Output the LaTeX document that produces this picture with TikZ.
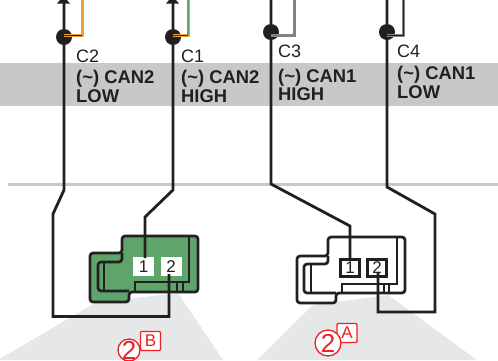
\documentclass[tikz,border=0pt]{standalone}
\usepackage{fontspec}
\setmainfont{Liberation Sans}
\definecolor{wire}{HTML}{231F20}
\definecolor{band}{HTML}{C7C8CA}
\definecolor{fan}{HTML}{E6E7E8}
\definecolor{cgreen}{HTML}{5FA56B}
\definecolor{cred}{HTML}{ED2024}
\definecolor{corange}{HTML}{E9A23B}
\definecolor{cgray}{HTML}{808285}
\newcommand{\bigtwo}{\makebox[0pt][c]{\raisebox{-.36em}[0pt][0pt]{2}}}
\tikzset{
  x=1pt,y=-1pt,
  wireline/.style={draw=wire,line width=2.8pt,line join=miter},
  dot/.style={circle,fill=wire,inner sep=0pt,minimum size=16pt},
  conn/.style={draw=wire,line width=2.7pt,rounded corners=3pt,line join=round},
  thinl/.style={draw=wire,line width=1.3pt},
  pin/.style={rectangle,fill=white,minimum width=21pt,minimum height=19pt,inner sep=0pt,font=\fontsize{17}{17}\selectfont,text=wire},
  pinbox/.style={pin,draw=wire,line width=2.7pt,minimum width=19pt,minimum height=17.5pt},
  tag/.style={anchor=base west,inner sep=0pt,font=\fontsize{18}{18}\selectfont,text=wire},
  lab/.style={anchor=base west,inner sep=0pt,font=\bfseries\fontsize{18.4}{18}\selectfont,text=wire},
  redc/.style={circle,draw=cred,fill=white,line width=1.3pt,inner sep=0pt,text=cred,font=\fontsize{26}{26}\selectfont},
  redb/.style={rectangle,rounded corners=1pt,draw=cred,fill=white,line width=1.3pt,inner sep=0pt,text=cred,minimum width=20pt,minimum height=19pt,font=\fontsize{17}{17}\selectfont},
}
\begin{document}
\begin{tikzpicture}
\useasboundingbox (0,0) rectangle (498,360);
\clip (0,0) rectangle (498,360);
% band and rule
\fill[band] (0,63) rectangle (498,106);
\fill[band] (8,183) rectangle (498,185.5);
% fans
\fill[fan] (95,303) -- (-2,360) -- (223,360) -- (178,293) -- cycle;
\fill[fan] (313,305) -- (257,360) -- (477,360) -- (388,295) -- cycle;
% labels
\node[tag] (c2) at (76,62) {C2};
\node[tag] (c1) at (181,62) {C1};
\node[tag] (c3) at (278,57) {C3};
\node[tag] (c4) at (397,57) {C4};
\node[lab] (l2a) at (76,83) {(\textasciitilde) CAN2};
\node[lab] (l2b) at (76,102) {LOW};
\node[lab] (l1a) at (181,83) {(\textasciitilde) CAN2};
\node[lab] (l1b) at (181,102) {HIGH};
\node[lab] (l3a) at (278,82) {(\textasciitilde) CAN1};
\node[lab] (l3b) at (278,100) {HIGH};
\node[lab] (l4a) at (397,79) {(\textasciitilde) CAN1};
\node[lab] (l4b) at (397,98) {LOW};
% connector B
\path[conn,fill=cgreen] (122,236) -- (198,236) -- (198,292) -- (129,292) -- (129,302) -- (90,302) -- (90,253) -- (122,253) -- cycle;
\draw[conn] (122,253) -- (122,262) -- (98,262) -- (98,291) -- (129,291);
\draw[thinl] (104,262) -- (104,291);
\draw[thinl] (189,236) -- (189,282) -- (135,282) -- (135,291);
\draw[thinl] (177,282) -- (177,291) (183,282) -- (183,291);
\node[pin] (b1) at (143.5,266.5) {1};
\node[pin] (b2) at (171,266.5) {2};
% connector A
\path[conn,fill=white] (328,237) -- (405,237) -- (405,293) -- (336,293) -- (336,303) -- (297,303) -- (297,256) -- (328,256) -- cycle;
\draw[conn] (328,256) -- (328,264) -- (304,264) -- (304,293) -- (336,293);
\draw[thinl] (311,264) -- (311,293);
\draw[thinl] (397,237) -- (397,284) -- (342,284) -- (342,293);
\draw[thinl] (384,284) -- (384,293) (389,284) -- (389,293);
\node[pinbox] (a1) at (350,268) {1};
\node[pinbox] (a2) at (377,268) {2};
% side loops
\coordinate (t2) at (82,0);
\coordinate (t1) at (188,0);
\coordinate (t3) at (294,0);
\coordinate (t4) at (403,0);
% wires
\node[dot] (d2) at (64,37) {};
\node[dot] (d1) at (173,37) {};
\node[dot] (d3) at (271,32) {};
\node[dot] (d4) at (387,32) {};
\draw[corange,line width=3pt] (d2.center) ++(0,-2) -- (82,35) -- (t2);
\draw[wire,line width=.7pt] (d2.center) ++(0,-2) -- ++(18,0);
\draw[corange,line width=3pt] (d1.center) ++(0,-2) -- (188,35) -- (t1);
\draw[cgreen,line width=1.2pt] (188,35) -- (t1);
\draw[red!70!black,line width=.7pt] (d1.center) ++(0,-2) -- (188,35);
\draw[cgray,line width=3pt] (d3.center) ++(0,3) -- (294,35) -- (t3);
\draw[cgray,line width=3pt] (d4.center) ++(0,3) -- (403,35) -- (t4);
\draw[wire,line width=.7pt] (d4.center) ++(0,3) -- (403,35) -- (t4);
\coordinate (k2a) at (64,190);
\coordinate (k2b) at (53,214);
\coordinate (k2c) at (53,316.5);
\coordinate (k2d) at (169,316.5);
\coordinate (k2e) at (169,274);
\draw[wireline] (64,0) -- (d2) -- (k2a) -- (k2b) -- (k2c) -- (k2d) -- (k2e);
\coordinate (k1a) at (173,190);
\coordinate (k1b) at (145,217);
\coordinate (k1c) at (145,258);
\draw[wireline] (173,0) -- (d1) -- (k1a) -- (k1b) -- (k1c);
\coordinate (k3a) at (271,184);
\coordinate (k3b) at (350,226);
\coordinate (k3c) at (350,260);
\draw[wireline] (271,0) -- (d3) -- (k3a) -- (k3b) -- (k3c);
\coordinate (k4a) at (387,187);
\coordinate (k4b) at (435,214);
\coordinate (k4c) at (435,312);
\coordinate (k4d) at (378,312);
\coordinate (k4e) at (378,272);
\draw[wireline] (387,0) -- (d4) -- (k4a) -- (k4b) -- (k4c) -- (k4d) -- (k4e);
% arrow tips
\fill[wire] (57,3.5) -- (70,3.5) -- (63.5,-4) -- cycle;
\fill[wire] (166,3.5) -- (179,3.5) -- (172.5,-4) -- cycle;
% red callouts
\node[redb] (rb) at (150.5,341) {B};
\node[redc,minimum size=22pt] (rc) at (129,350) {\bigtwo};
\node[redb] (ra) at (347,333) {A};
\node[redc,minimum size=26pt] (rd) at (328,343) {\bigtwo};
\end{tikzpicture}
\end{document}
